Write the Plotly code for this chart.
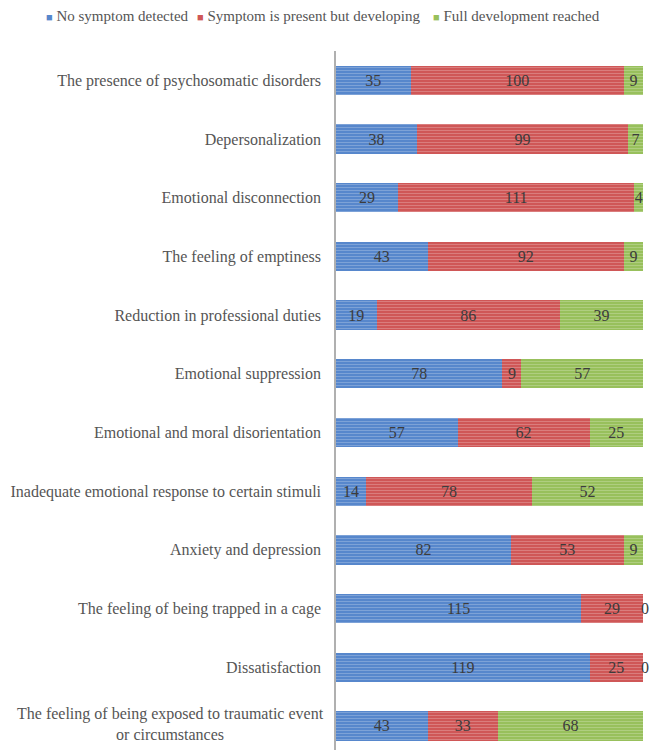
import plotly.graph_objects as go

categories = [
    "The presence of psychosomatic disorders",
    "Depersonalization",
    "Emotional disconnection",
    "The feeling of emptiness",
    "Reduction in professional duties",
    "Emotional suppression",
    "Emotional and moral disorientation",
    "Inadequate emotional response to certain stimuli",
    "Anxiety and depression",
    "The feeling of being trapped in a cage",
    "Dissatisfaction",
    "The feeling of being exposed to traumatic event or circumstances",
]
tick_labels = categories[:-1] + [""]
last_label = "The feeling of being exposed to traumatic event<br>or circumstances"

no_symptom = [35, 38, 29, 43, 19, 78, 57, 14, 82, 115, 119, 43]
developing = [100, 99, 111, 92, 86, 9, 62, 78, 53, 29, 25, 33]
full_dev = [9, 7, 4, 9, 39, 57, 25, 52, 9, 0, 0, 68]

series_names = ["No symptom detected", "Symptom is present but developing", "Full development reached"]
series_values = [no_symptom, developing, full_dev]
colors = ["#5787cc", "#cf5757", "#98c05c"]

FONT = "Liberation Serif"

fig = go.Figure()
for name, vals, col in zip(series_names, series_values, colors):
    fig.add_trace(go.Bar(
        y=categories, x=vals, name=name, orientation="h",
        marker=dict(color=col, line=dict(width=0),
                    pattern=dict(shape="-", fgcolor="rgba(255,255,255,0.45)", size=3,
                                 solidity=0.35, fillmode="overlay")),
        text=[str(v) if v > 0 else "" for v in vals], textposition="inside",
        insidetextanchor="middle",
        textfont=dict(family=FONT, size=16, color="#3c3c3c"),
        cliponaxis=False, width=0.5, showlegend=False,
    ))

# zero-valued segments: label at the end of the stacked bar
for i, cat in enumerate(categories):
    cum = 0
    for vals in series_values:
        cum += vals[i]
        if vals[i] == 0:
            fig.add_annotation(x=cum, y=cat, xref="x", yref="y", text="0", xshift=2,
                               showarrow=False, xanchor="center", yanchor="middle",
                               font=dict(family=FONT, size=16, color="#3c3c3c"))

fig.update_layout(
    barmode="stack",
    width=650, height=750,
    margin=dict(l=336, r=7, t=51, b=0),
    paper_bgcolor="white", plot_bgcolor="white",
    uniformtext=dict(minsize=16, mode="show"),
    xaxis=dict(range=[0, 144], showgrid=False, zeroline=False, showticklabels=False,
               showline=False, ticks=""),
    yaxis=dict(type="category", categoryorder="array", categoryarray=categories,
               range=[11.41, -0.5], tickvals=categories, ticktext=tick_labels,
               showline=True, linecolor="#b0b0b0", linewidth=1.5, ticks="",
               showgrid=False, ticklabelstandoff=10,
               tickfont=dict(family=FONT, size=16, color="#555555")),
    font=dict(family=FONT, size=16, color="#555555"),
)

fig.add_annotation(xref="paper", yref="y", x=0, y=categories[-1], xshift=-10, yshift=2,
                   text=last_label, showarrow=False, xanchor="right", yanchor="middle",
                   align="center", font=dict(family=FONT, size=16, color="#555555"))

legend_x = [44, 195, 431]
for name, col, lx in zip(series_names, colors, legend_x):
    fig.add_annotation(xref="paper", yref="paper", x=(lx - 336) / 307, y=1, yshift=51 - 16,
                       text=f'<span style="color:{col};font-size:11px">■</span> {name}',
                       showarrow=False, xanchor="left", yanchor="middle",
                       font=dict(family=FONT, size=15, color="#555555"))

fig.write_html("out.html")
